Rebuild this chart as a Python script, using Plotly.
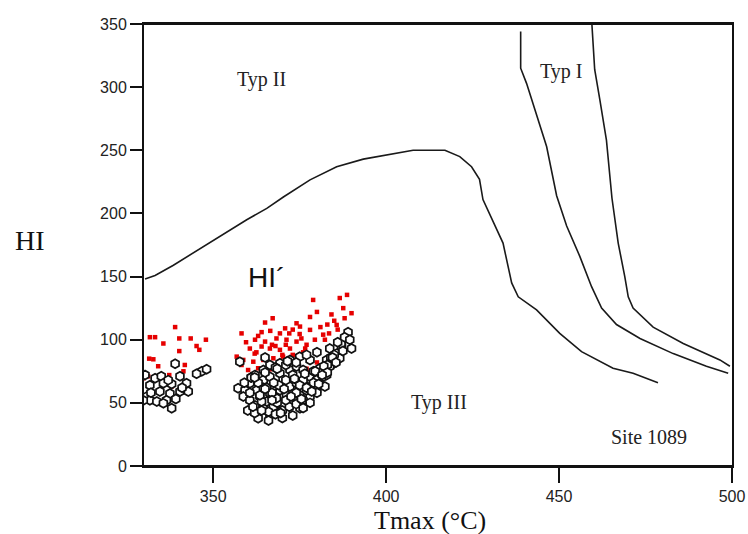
import plotly.graph_objects as go

# ---- boundary curves (Tmax, HI) ----
typ2_x = [330.3, 333.2, 338.5, 346.2, 352.0, 359.7, 365.5, 370.3, 378.0, 385.7, 393.4, 401.1, 407.8, 417.0,
          421.3, 424.7, 427.0, 428.0, 432.0, 433.8, 436.3, 438.2, 443.5, 450.2, 456.5, 465.6, 471.4, 478.6]
typ2_y = [148, 150.8, 159, 172, 182, 195, 204, 213, 226.6, 237, 243, 247, 250, 250,
          245, 237, 227, 211, 187, 176.5, 145, 134, 123.6, 105, 90.6, 77.4, 73.5, 66]

typ1a_x = [438.9, 438.9, 440.6, 443.5, 446.4, 449.3, 452.2, 456.0, 459.4, 462.3, 466.6, 473.4, 483.0, 492.6, 498.9]
typ1a_y = [344, 315, 303, 277, 253, 214, 190, 166, 142, 125, 112, 101, 89, 79, 73.5]

typ1b_x = [459.4, 459.7, 460.3, 461.8, 463.7, 465.3, 467.1, 469.0, 470.0, 471.4, 477.2, 485.9, 496.5, 499.4]
typ1b_y = [354, 340, 314, 290, 258, 212, 176.5, 150, 134, 125, 110, 97, 84, 79]

# ---- HI' (red) ----
red_x = [339, 340.2, 331.7, 333.2, 335.6, 347.9, 345.2, 340.2, 346, 331.5, 332.7, 334.1, 341.8, 329.8, 336.1,
         337.3, 338, 341.4, 331.2, 333, 343.5,
         388.7, 386.6, 378.9, 387.6, 390, 384.2, 378, 367.2, 388, 365, 374.1, 385.7, 375.1, 370.8, 358.2, 364,
         366.5, 369.3, 372, 375, 378, 381.8, 383.5, 362.1, 365, 368.3, 371.2, 374.1, 375.5, 379.4, 382.3,
         360.6, 364, 366.4, 369.3, 372.2, 376.6, 358.7, 361.6, 364.5, 367.4, 370.2, 360.1, 363, 366.4, 358.2,
         356.8, 377, 380, 373, 362, 385, 380, 371, 386, 383, 376, 368,
         363, 367, 370, 373, 377, 381, 359.5, 362.5, 369, 374.5]
red_y = [110, 101, 102, 102, 97, 100, 95, 91, 92, 85, 84.5, 79, 80, 69.5, 69.5,
         72, 63, 75, 71, 70, 101,
         135.5, 133, 131.5, 125, 121, 120, 118, 117, 117, 113.6, 113, 111.7, 110.4, 109, 105, 106,
         107, 105, 105, 104.5, 107.8, 104, 105, 100, 98.5, 101, 100, 98.5, 101, 100, 100,
         93, 94.6, 93, 92, 93, 93, 84, 82.6, 84, 85.3, 86.6, 76, 77.4, 76.6, 80,
         86.6, 77, 82, 88, 89, 115, 122, 96, 108, 112, 90, 95,
         103, 96, 88, 108, 96, 110, 98, 90, 81, 84]

# ---- HI (black open) ----
blk_x = [339, 346.7, 348.1, 345.2, 330.3, 333.2, 335, 340.4, 342.3, 331.7, 335.6, 338, 334.6, 330.8, 337.5,
         340.4, 342.8, 331.7, 333.7, 336.5, 339.2, 338, 329.8, 335.6, 341, 332, 337,
         389, 388, 390, 387.1, 383.7, 385.7, 382.8, 384.7, 380.9, 378, 375, 372.2, 357.7, 357.2, 359.2, 358.7,
         360.6, 362.6, 364.5, 366.4, 369.3, 370.2, 372.2, 374.1, 376, 378, 379.9, 381.8, 379.9, 377, 375.1,
         372.2, 375.1, 370.2, 367.4, 364.5, 363, 366.4, 368.5, 362.1, 363.5, 366.4, 369.3, 372.2, 374.1,
         367.4, 360.6, 364.5, 360.6, 371.2, 368.3, 365.5, 378, 382.3, 376, 382.8, 379, 383.7, 386.6, 369.3,
         366.4, 364.5, 362.1, 361, 363, 365.5, 367, 369, 371, 373, 375, 377, 379, 381, 383, 385, 387,
         360, 362, 364, 366, 368, 370, 372, 374, 376, 378, 380, 370, 373, 376, 359, 361, 365, 368, 371,
         374, 377, 380, 384, 386, 388,
         363.5, 365, 367.5, 370.5, 373.5, 376.5, 379.5, 382, 384.5, 387.5, 362, 364, 367, 371, 374, 377,
         380.5, 383, 361.5, 366, 369.5, 372.5, 375.5, 378.5, 381.5, 385.5, 389.5, 368.5, 371.5, 365]
blk_y = [81, 75, 76.6, 73, 72, 69.5, 71, 71, 65.5, 64, 65.5, 65, 59, 55, 57.5,
         59, 59, 52, 51, 52, 53, 45.7, 52, 49.6, 62, 58, 68,
         106, 101, 93, 94.5, 93, 89, 84, 81, 77.4, 84, 86.6, 84, 82.6, 61.6, 60, 55,
         52, 60, 68, 70.7, 73.4, 68, 76, 78.7, 76, 70.7, 68, 70.7, 60, 63, 56,
         52, 45.7, 48, 47, 45.7, 37.8, 40.4, 50, 48, 55, 57.6, 60, 63, 65.5,
         63, 65.5, 62, 58, 56, 53.6, 51, 55, 63, 68, 72, 75, 78.7, 85.3, 81.4,
         80, 76, 72, 70, 66, 62, 58, 64, 68, 72, 64, 60, 66, 74, 80, 88, 97,
         44, 42, 51, 43, 41, 44, 47, 49, 52, 50, 58, 38, 40, 46, 66, 70, 74, 78, 80,
         82, 88, 90, 86, 98, 102,
         56, 61, 66, 61, 69, 73, 75, 79, 86, 91, 70, 44, 52, 52, 58, 62,
         65, 74, 47, 36, 42, 55, 53, 59, 72, 82, 100, 77, 83, 86]

fig = go.Figure()
line_style = dict(color="#1a1a1a", width=1.6)
for xs, ys in [(typ2_x, typ2_y), (typ1a_x, typ1a_y), (typ1b_x, typ1b_y)]:
    fig.add_trace(go.Scatter(x=xs, y=ys, mode="lines", line=line_style, hoverinfo="skip"))

fig.add_trace(go.Scatter(x=red_x, y=red_y, mode="markers",
                         marker=dict(symbol="square", size=4.5, color="#e60000", line=dict(width=0))))
fig.add_trace(go.Scatter(x=blk_x, y=blk_y, mode="markers",
                         marker=dict(symbol="hexagon", size=9, color="white",
                                     line=dict(color="#111111", width=1.7))))

serif = "Liberation Serif, Times New Roman, serif"
sans = "Liberation Sans, Arial, sans-serif"
ann = [
    dict(x=364, y=306, text="Typ II", font=dict(family=serif, size=20, color="#222")),
    dict(x=450.5, y=312, text="Typ I", font=dict(family=serif, size=20, color="#222")),
    dict(x=415.3, y=50, text="Typ III", font=dict(family=serif, size=20, color="#222")),
    dict(x=476, y=23, text="Site 1089", font=dict(family=serif, size=20, color="#222")),
    dict(x=365.5, y=149, text="HI´", font=dict(family=sans, size=28, color="#111")),
]
for a in ann:
    fig.add_annotation(xref="x", yref="y", showarrow=False, **a)

fig.add_annotation(xref="paper", yref="paper", x=-0.194, y=0.51, text="HI", showarrow=False,
                   xanchor="center", yanchor="middle", font=dict(family=serif, size=28, color="#111"))
fig.add_annotation(xref="paper", yref="paper", x=0.486, y=-0.124, text="Tmax (°C)", showarrow=False,
                   xanchor="center", yanchor="middle", borderpad=0,
                   font=dict(family=serif, size=26, color="#111"))

fig.update_layout(
    width=748, height=534,
    margin=dict(l=144, r=16, t=24, b=68, autoexpand=False),
    paper_bgcolor="white", plot_bgcolor="white",
    showlegend=False,
    shapes=[
        dict(type="line", xref="paper", yref="paper", x0=-0.02, x1=1, y0=1, y1=1,
             line=dict(color="#111", width=2)),
        dict(type="line", xref="paper", yref="paper", x0=-0.02, x1=1, y0=0, y1=0,
             line=dict(color="#111", width=2)),
    ],
)
fig.update_xaxes(range=[330, 500], tickvals=[350, 400, 450, 500], ticktext=["350", "400", "450", "500"],
                 ticks="outside", ticklen=15, tickwidth=1.5, tickcolor="#111", automargin=False,
                 showline=True, linecolor="#111", linewidth=2, mirror=True, showgrid=False, zeroline=False,
                 tickfont=dict(family=sans, size=16, color="#222"))
fig.update_yaxes(range=[0, 350], tickvals=[0, 50, 100, 150, 200, 250, 300, 350],
                 ticks="outside", ticklen=12, tickwidth=1.5, tickcolor="#111", automargin=False,
                 showline=True, linecolor="#111", linewidth=2, mirror=True, showgrid=False, zeroline=False,
                 tickfont=dict(family=sans, size=16, color="#222"))

# remove the default 8px page margin so the 748x534 figure fills the window exactly
fig.write_html("out.html", config={"displayModeBar": False},
               post_script="document.body.style.margin='0px';document.body.style.overflow='hidden';")
